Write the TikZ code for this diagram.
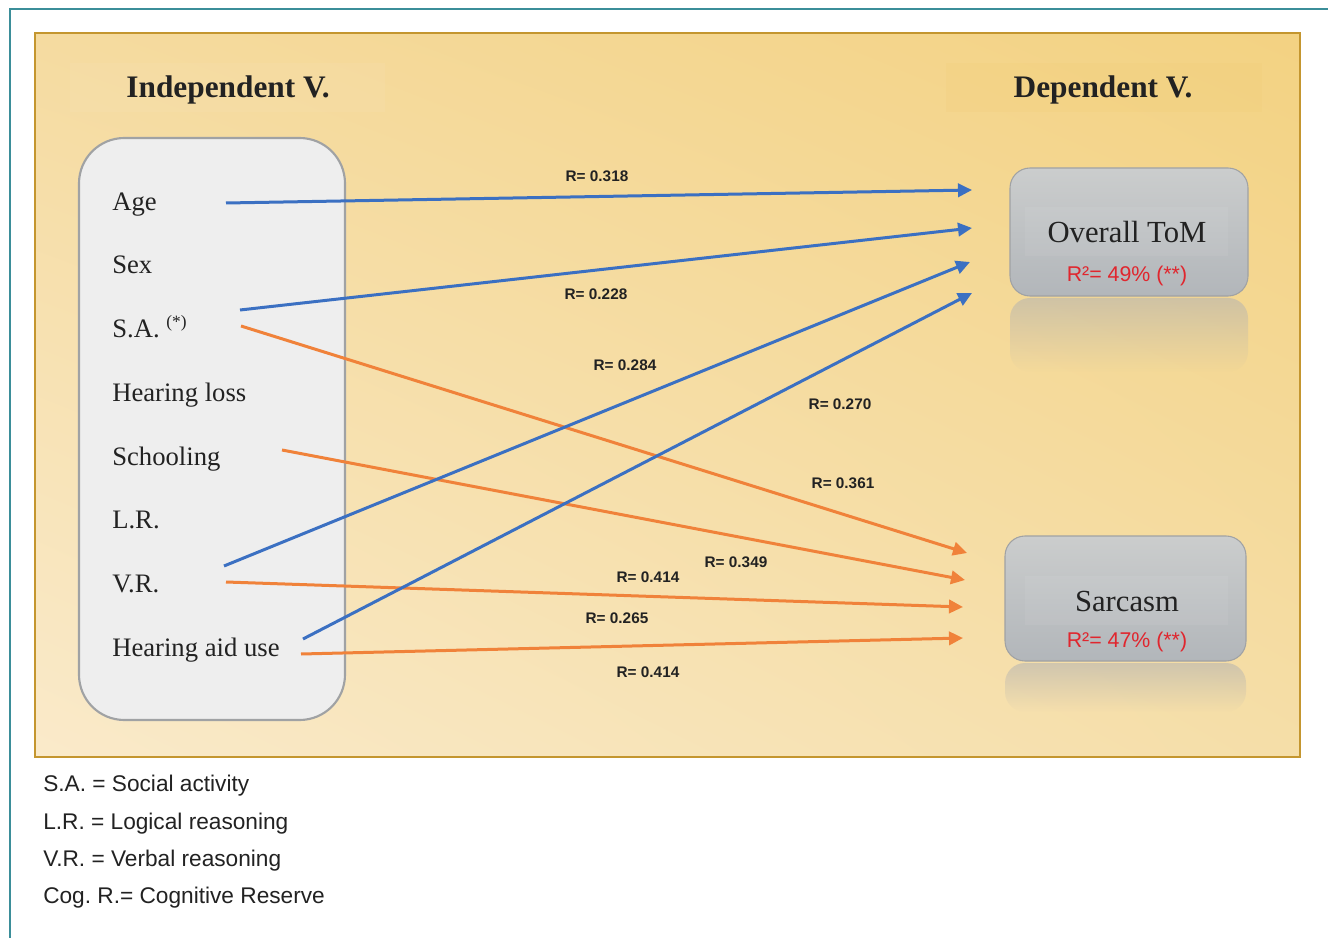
\documentclass[tikz,border=0pt]{standalone}
\usepackage{fontspec}
\setmainfont{Liberation Serif}
\newfontfamily\arial{Liberation Sans}
\usetikzlibrary{arrows.meta,fadings,shadings}
\definecolor{frameteal}{HTML}{3B8E99}
\definecolor{panelborder}{HTML}{C4962F}
\definecolor{arrblue}{HTML}{3B70C2}
\definecolor{arrorange}{HTML}{F0823A}
\definecolor{boxgray}{HTML}{EEEEEE}
\definecolor{boxborder}{HTML}{A0A2A4}
\definecolor{redtxt}{HTML}{E0262E}
\definecolor{txtdark}{HTML}{222222}
\definecolor{panelLL}{RGB}{250,234,202}
\definecolor{panelUL}{RGB}{245,219,160}
\definecolor{panelLR}{RGB}{245,222,168}
\definecolor{panelUR}{RGB}{243,210,130}
\definecolor{depbg}{RGB}{240,200,110}
\definecolor{grayTop}{RGB}{203,205,205}
\definecolor{grayBot}{RGB}{178,182,186}
\tikzfading[name=reflfade, top color=transparent!45, bottom color=transparent!100]
\tikzset{
  varlab/.style={anchor=base west, inner sep=0pt, font=\fontsize{20}{22}\selectfont, text=txtdark},
  rlab/.style={inner sep=0pt, font=\arial\bfseries\fontsize{11.5}{13}\selectfont, text=txtdark},
  bluearr/.style={draw=arrblue, line width=2.25pt, -{Triangle[length=10.5pt,width=10pt]}},
  orangearr/.style={draw=arrorange, line width=2.25pt, -{Triangle[length=10.5pt,width=10pt]}},
  depbox/.style={draw=boxborder, line width=0.8pt, rounded corners=15pt, top color=grayTop, bottom color=grayBot},
  legend/.style={anchor=base west, inner sep=0pt, font=\arial\fontsize{17}{19}\selectfont, text=txtdark},
  r2lab/.style={anchor=base, inner sep=0pt, font=\arial\fontsize{16}{18}\selectfont, text=redtxt},
  title/.style={anchor=base, inner sep=0pt, font=\bfseries\fontsize{23.5}{26}\selectfont, text=txtdark}
}
\begin{document}
\frenchspacing
\begin{tikzpicture}[x=0.75pt,y=-0.75pt]
\useasboundingbox (0,0) rectangle (1328,938);
\fill[white] (0,0) rectangle (1328,938);
% outer frame
\draw[frameteal, line width=1.6pt] (10,938) -- (10,9) -- (1328,9);
% panel
\shade[shading=bilinear interpolation, lower left=panelLL, upper left=panelUL,
       lower right=panelLR, upper right=panelUR]
  (35,33) rectangle (1300,757);
\draw[panelborder, line width=2pt] (35,33) rectangle (1300,757);
% title backgrounds
\fill[white, opacity=0.05] (70,63) rectangle (385,112);
\fill[depbg, opacity=0.15] (946,63) rectangle (1262,112);
\node[title] (indep) at (228,98) {Independent V.};
\node[title] (dep) at (1103,98) {Dependent V.};
% left box
\draw[boxborder, fill=boxgray, line width=1.6pt, rounded corners=34pt] (79,138) rectangle (345,720);
\node[varlab] (age) at (112,210) {Age};
\node[varlab] (sex) at (112,273) {Sex};
\node[varlab] (sa) at (112,337) {S.A. {\fontsize{13}{14}\selectfont\raisebox{0.55em}{(*)}}};
\node[varlab] (hl) at (112,401) {Hearing loss};
\node[varlab] (school) at (112,465) {Schooling};
\node[varlab] (lr) at (112,528) {L.R.};
\node[varlab] (vr) at (112,592) {V.R.};
\node[varlab] (hau) at (112,656) {Hearing aid use};
% reflections
\fill[gray!60, rounded corners=15pt, path fading=reflfade] (1010,298) rectangle (1248,372);
\fill[gray!60, rounded corners=15pt, path fading=reflfade] (1005,663) rectangle (1246,712);
% dependent boxes
\draw[depbox] (1010,168) rectangle (1248,296);
\fill[white, opacity=0.06] (1025,207) rectangle (1228,256);
\node[anchor=base, inner sep=0pt, font=\fontsize{23}{26}\selectfont, text=txtdark] (tom) at (1127,243) {Overall ToM};
\node[r2lab] (tomr2) at (1127,281) {R²= 49\% (**)};
\draw[depbox] (1005,536) rectangle (1246,661);
\fill[white, opacity=0.06] (1025,576) rectangle (1228,625);
\node[anchor=base, inner sep=0pt, font=\fontsize{23}{26}\selectfont, text=txtdark] (sar) at (1127,611) {Sarcasm};
\node[r2lab] (sarr2) at (1127,647) {R²= 47\% (**)};
% connector end points
\coordinate (ageS) at (226,203);
\coordinate (saS1) at (240,310);
\coordinate (saS2) at (241,326);
\coordinate (schS) at (282,450);
\coordinate (vrS1) at (224,566);
\coordinate (vrS2) at (226,582);
\coordinate (hauS1) at (303,639);
\coordinate (hauS2) at (301,654);
\coordinate (t1) at (972,190);
\coordinate (t2) at (972,228);
\coordinate (t3) at (970,262);
\coordinate (t4) at (972,293);
\coordinate (s1) at (967,553);
\coordinate (s2) at (965,580);
\coordinate (s3) at (963,607);
\coordinate (s4) at (963,638);
% arrows
\draw[bluearr] (ageS) -- (t1);
\draw[bluearr] (saS1) -- (t2);
\draw[orangearr] (saS2) -- (s1);
\draw[orangearr] (schS) -- (s2);
\draw[bluearr] (vrS1) -- (t3);
\draw[orangearr] (vrS2) -- (s3);
\draw[bluearr] (hauS1) -- (t4);
\draw[orangearr] (hauS2) -- (s4);
% R labels
\node[rlab] (r1) at (597,176) {R= 0.318};
\node[rlab] (r2) at (596,294) {R= 0.228};
\node[rlab] (r3) at (625,365) {R= 0.284};
\node[rlab] (r4) at (840,404) {R= 0.270};
\node[rlab] (r5) at (843,483) {R= 0.361};
\node[rlab] (r6) at (736,562) {R= 0.349};
\node[rlab] (r7) at (648,577) {R= 0.414};
\node[rlab] (r8) at (617,618) {R= 0.265};
\node[rlab] (r9) at (648,672) {R= 0.414};
% legend
\node[legend] (l1) at (43,791) {S.A. = Social activity};
\node[legend] (l2) at (43,829) {L.R. = Logical reasoning};
\node[legend] (l3) at (43,866) {V.R. = Verbal reasoning};
\node[legend] (l4) at (43,903) {Cog. R.= Cognitive Reserve};
\end{tikzpicture}
\end{document}
